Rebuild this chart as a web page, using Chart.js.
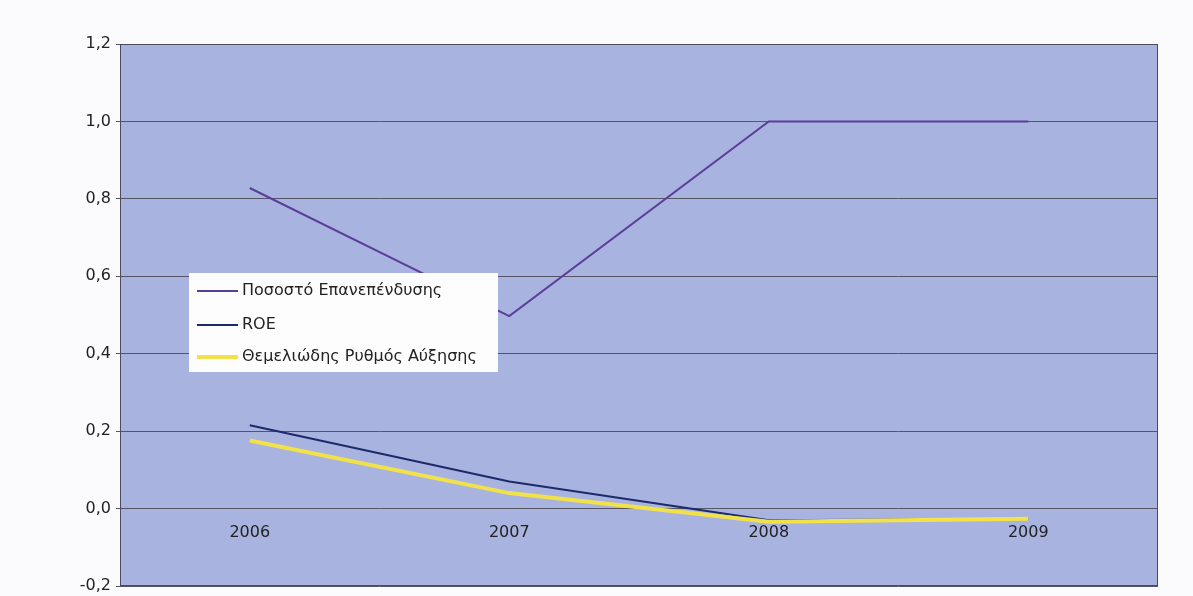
<!DOCTYPE html>
<html>
<head>
<meta charset="utf-8">
<script src="https://cdn.jsdelivr.net/npm/chart.js@4/dist/chart.umd.min.js"></script>
<style>
  html, body { margin: 0; padding: 0; background: #fbfbfd; }
  #wrap { width: 1193px; height: 596px; position: relative; }
</style>
</head>
<body>
<div id="wrap"><canvas id="chart"></canvas></div>
<script>
const years = ['2006', '2007', '2008', '2009'];
const reinvestRate = [0.828, 0.497, 1.0, 1.0];
const roe = [0.215, 0.070, -0.030, -0.026];
const growthRate = [0.176, 0.040, -0.034, -0.026];
const yTicks = [-0.2, 0.0, 0.2, 0.4, 0.6, 0.8, 1.0, 1.2];

const FONT = 'DejaVu Sans, sans-serif';

// plot area fill + dark frame
const plotFrame = {
  id: 'plotFrame',
  beforeDraw(chart) {
    const { ctx, chartArea: a } = chart;
    ctx.save();
    ctx.fillStyle = '#a9b3df';
    ctx.fillRect(a.left, a.top, a.width, a.height);
    ctx.restore();
  },
  afterDatasetsDraw(chart) {
    const { ctx, chartArea: a } = chart;
    ctx.save();
    ctx.strokeStyle = '#4a4a5a';
    ctx.lineWidth = 1;
    ctx.strokeRect(a.left + 0.5, a.top + 0.5, a.width - 1, a.height - 1);
    ctx.restore();
  }
};

// boxed legend sitting inside the plot
const boxLegend = {
  id: 'boxLegend',
  afterDraw(chart) {
    const { ctx, chartArea: a } = chart;
    const x = a.left + 69, y = a.top + 229, w = 309, h = 99;
    ctx.save();
    ctx.fillStyle = '#fdfdfd';
    ctx.fillRect(x, y, w, h);
    ctx.font = '16px ' + FONT;
    ctx.textBaseline = 'middle';
    const rows = [18, 52, 84];
    chart.data.datasets.forEach((ds, i) => {
      const ry = y + rows[i];
      ctx.strokeStyle = ds.borderColor;
      ctx.lineWidth = ds.borderWidth;
      ctx.beginPath();
      ctx.moveTo(x + 8, ry);
      ctx.lineTo(x + 49, ry);
      ctx.stroke();
      ctx.fillStyle = '#222';
      ctx.fillText(ds.label, x + 53, ry);
    });
    ctx.restore();
  }
};

new Chart(document.getElementById('chart'), {
  type: 'line',
  data: {
    labels: years,
    datasets: [
      {
        label: 'Ποσοστό Επανεπένδυσης',
        data: reinvestRate,
        borderColor: '#5a3f9a',
        borderWidth: 2
      },
      {
        label: 'ROE',
        data: roe,
        borderColor: '#1c2a6c',
        borderWidth: 2
      },
      {
        label: 'Θεμελιώδης Ρυθμός Αύξησης',
        data: growthRate,
        borderColor: '#f2e24a',
        borderWidth: 4,
        order: -1
      }
    ]
  },
  options: {
    responsive: true,
    maintainAspectRatio: false,
    animation: false,
    layout: { padding: { top: 44, right: 35, bottom: 10, left: 0 } },
    elements: {
      point: { radius: 0 },
      line: { tension: 0, borderCapStyle: 'butt' }
    },
    plugins: {
      legend: { display: false },
      tooltip: { enabled: false }
    },
    scales: {
      x: {
        type: 'category',
        offset: true,
        position: { y: 0 },
        grid: { display: false },
        border: { display: false },
        ticks: {
          color: '#222',
          padding: 7,
          font: { family: FONT, size: 16 },
          maxRotation: 0
        }
      },
      y: {
        min: -0.2,
        max: 1.2,
        afterBuildTicks(axis) {
          axis.ticks = yTicks.map(v => ({ value: v }));
        },
        afterFit(axis) {
          axis.width = 120;
          // let the bottom label hang past the plot edge
          axis.paddingBottom = 0;
          axis.paddingTop = 0;
        },
        grid: {
          color: '#555566',
          lineWidth: 1,
          tickLength: 4,
          drawOnChartArea: true
        },
        border: { display: false },
        ticks: {
          color: '#222',
          padding: 5,
          font: { family: FONT, size: 16 },
          callback: v => v.toFixed(1).replace('.', ',')
        }
      }
    }
  },
  plugins: [plotFrame, boxLegend]
});
</script>
</body>
</html>
